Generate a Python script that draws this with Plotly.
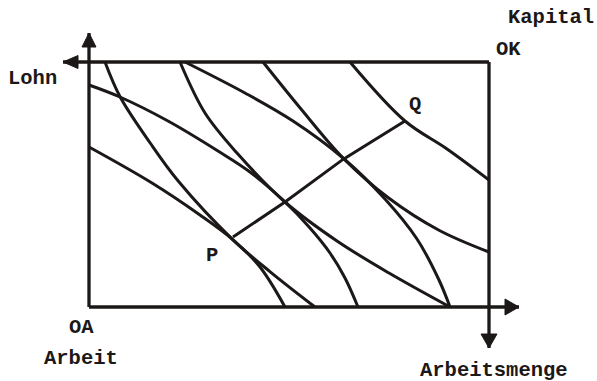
import plotly.graph_objects as go

# ---- data (units: box is 100 wide x 61.25 high, origin OA at lower left) ----
box_w = 100
box_h = 61.25

# isoquants of sector A (convex towards OA)
a1_x = [4, 7.8, 15.3, 22.3, 36, 45.3, 56.5]
a1_y = [61.25, 52.5, 41, 31.5, 16.8, 8.8, 0]
a2_x = [22.75, 29, 37, 49, 62, 75, 90.25]
a2_y = [61.25, 48.5, 38.5, 26.25, 16.5, 8.5, 0]
a3_x = [43.5, 53, 63.5, 75, 87.5, 100]
a3_y = [61.25, 49.5, 37.25, 27.2, 19.2, 13.75]
a4_x = [65.25, 79, 89.5, 100]
a4_y = [61.25, 46.5, 39.5, 31.75]

# isoquants of sector K (convex towards OK)
k1_x = [0, 15.75, 27.75, 36, 42.75, 49]
k1_y = [40, 31, 23, 16.8, 10, 0]
k2_x = [0, 7.75, 19.75, 32.25, 40.25, 49, 55.25, 60.25, 64, 67.25]
k2_y = [55.5, 52.5, 46.5, 39, 33.75, 26.25, 19.75, 13.5, 7.25, 0]
k3_x = [24, 39, 51, 63.5, 74, 82, 87.5, 90.25]
k3_y = [61.25, 53.5, 46.5, 37.25, 27, 17, 6.75, 0]

# contract curve P -> Q
contract_x = [36, 49, 63.5, 79]
contract_y = [17.5, 26.25, 36.9, 46.5]

# axis extents
axis_left_top = 68.5        # vertical axis at OA goes up to here
axis_top_left = -6.5        # top line extends to the left
axis_right_bottom = -10.25  # right line extends down
axis_bottom_right = 107.5   # bottom line extends to the right

labels = ["Kapital", "OK", "Lohn", "Q", "P", "OA", "Arbeit", "Arbeitsmenge"]
label_x = [115.5, 104.75, -14.25, 81.5, 30.75, -2, -2, 101.25]
label_y = [72.5, 64.5, 57.25, 50.75, 13, -5, -12.75, -15.75]

# ---- styling ----
INK = "#1c1818"
PX = 4.0  # pixels per unit

fig = go.Figure()

def line(xs, ys, width=3.0, shape="spline"):
    fig.add_trace(go.Scatter(x=xs, y=ys, mode="lines",
                             line=dict(color=INK, width=width, shape=shape, smoothing=1.0),
                             hoverinfo="skip", showlegend=False))

# frame / axes
line([0, 0], [0, axis_left_top], 3.3, "linear")
line([axis_top_left, box_w], [box_h, box_h], 3.3, "linear")
line([box_w, box_w], [box_h, axis_right_bottom], 3.3, "linear")
line([0, axis_bottom_right], [0, 0], 3.3, "linear")

# arrowheads (filled triangles at axis ends)
def arrow(tx, ty, dx, dy, length=14, half=7):
    L = length / PX
    H = half / PX
    bx, by = tx - dx * L, ty - dy * L
    nx, ny = -dy, dx
    xs = [tx, bx + nx * H, bx - nx * H, tx]
    ys = [ty, by + ny * H, by - ny * H, ty]
    fig.add_trace(go.Scatter(x=xs, y=ys, mode="lines", fill="toself",
                             fillcolor=INK, line=dict(color=INK, width=1),
                             hoverinfo="skip", showlegend=False))

arrow(0, axis_left_top, 0, 1, 14, 7)
arrow(axis_top_left, box_h, -1, 0, 15, 6.5)
arrow(box_w, axis_right_bottom, 0, -1, 14, 8)
arrow(axis_bottom_right, 0, 1, 0, 14, 8)

# isoquants
for xs, ys in [(a1_x, a1_y), (a2_x, a2_y), (a3_x, a3_y), (a4_x, a4_y),
               (k1_x, k1_y), (k2_x, k2_y), (k3_x, k3_y)]:
    line(xs, ys, 3.0)

# contract curve
line(contract_x, contract_y, 3.0, "linear")

for t, x, y in zip(labels, label_x, label_y):
    fig.add_annotation(x=x, y=y, text=t, showarrow=False,
                       font=dict(family="Liberation Mono", size=20.5, color=INK, weight="bold"),
                       xanchor="center", yanchor="middle")

fig.update_layout(
    width=597, height=381,
    margin=dict(l=0, r=0, t=0, b=0),
    paper_bgcolor="white", plot_bgcolor="white",
    xaxis=dict(range=[-22.25, 127], visible=False, fixedrange=True),
    yaxis=dict(range=[-18.5, 76.75], visible=False, fixedrange=True),
)
fig.write_html("out.html", config={"displayModeBar": False, "staticPlot": True},
               post_script="document.body.style.margin='0px';document.body.style.padding='0px';")
